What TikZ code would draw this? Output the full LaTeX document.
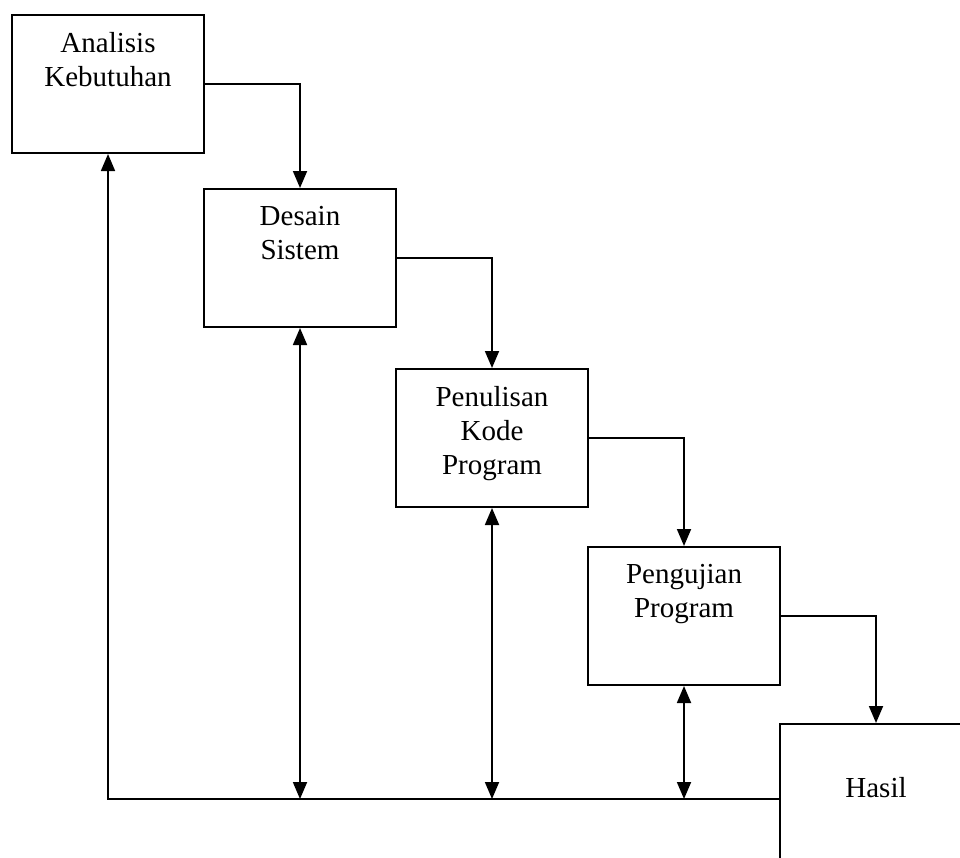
\documentclass[tikz,border=0pt]{standalone}
\usepackage{fontspec}
\setmainfont{Liberation Serif}
\usetikzlibrary{arrows.meta}
\begin{document}
\begin{tikzpicture}[x=1pt,y=-1pt,
  box/.style={draw, line width=2pt, minimum width=192pt, minimum height=138pt, inner sep=0pt},
  label/.style={anchor=north, inner sep=0pt, align=center, font=\fontsize{29}{34}\selectfont},
  conn/.style={line width=1.8pt},
  tip/.style={-{Triangle[length=17pt,width=14pt]}},
  tips/.style={{Triangle[length=17pt,width=14pt]}-{Triangle[length=17pt,width=14pt]}}]
\useasboundingbox (0,0) rectangle (960,857);
\clip (0,0) rectangle (960,857);
\fill[white] (0,0) rectangle (960,857);
% boxes
\node[box] (b1) at (108,84) {};
\node[box] (b2) at (300,258) {};
\node[box] (b3) at (492,438) {};
\node[box] (b4) at (684,616) {};
\node[box] (b5) at (876,793) {};
% texts
\node[label] (t1) at ([yshift=-18pt]b1.north) {Analisis\\Kebutuhan};
\node[label] (t2) at ([yshift=-18pt]b2.north) {Desain\\Sistem};
\node[label] (t3) at ([yshift=-18pt]b3.north) {Penulisan\\Kode\\Program};
\node[label] (t4) at ([yshift=-18pt]b4.north) {Pengujian\\Program};
\node[anchor=base, inner sep=0pt, font=\fontsize{29}{34}\selectfont] (t5) at (876,797) {Hasil};
% forward connectors
\draw[conn,tip] (b1.east) -| (b2.north);
\draw[conn,tip] (b2.east) -| (b3.north);
\draw[conn,tip] (b3.east) -| (b4.north);
\draw[conn,tip] (b4.east) -| (b5.north);
% feedback line
\coordinate (c0) at (108,799);
\coordinate (cr) at (b5.west |- c0);
\draw[conn,tip] (cr) -- (c0) -- (b1.south);
\draw[conn,tips] (b2.south) -- (b2.south |- c0);
\draw[conn,tips] (b3.south) -- (b3.south |- c0);
\draw[conn,tips] (b4.south) -- (b4.south |- c0);
\end{tikzpicture}
\end{document}
